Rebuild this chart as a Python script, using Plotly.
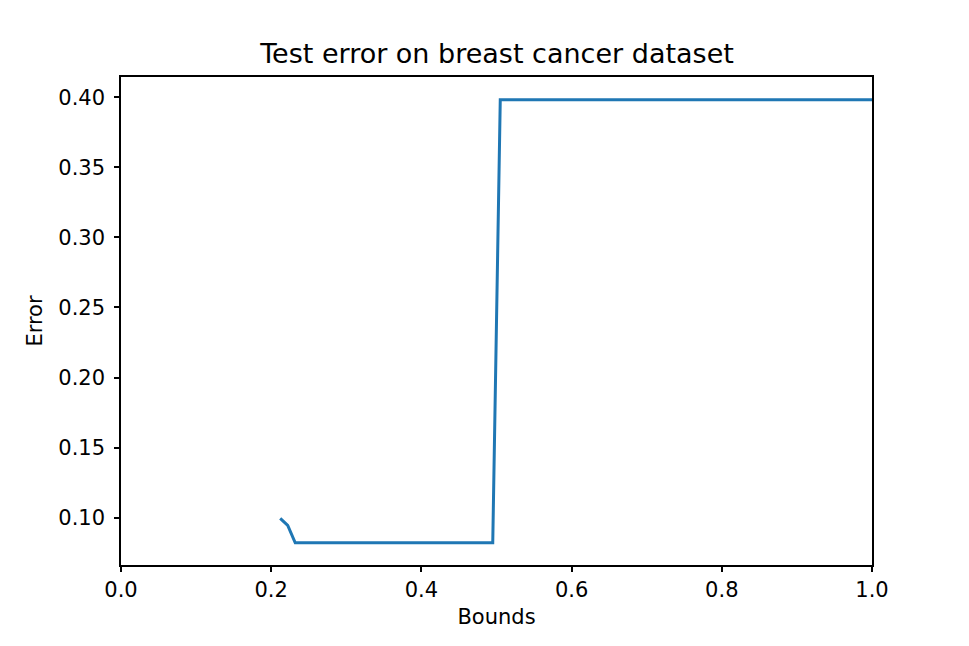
import plotly.graph_objects as go

# Bounds vs test error
bounds = [0.212, 0.222, 0.232, 0.495, 0.505, 1.0]
errors = [0.0995, 0.0945, 0.0821, 0.0821, 0.3982, 0.3982]

x_ticks = [0.0, 0.2, 0.4, 0.6, 0.8, 1.0]
y_ticks = [0.10, 0.15, 0.20, 0.25, 0.30, 0.35, 0.40]

font_family = "DejaVu Sans"

fig = go.Figure()
fig.add_trace(go.Scatter(
    x=bounds, y=errors, mode="lines",
    line=dict(color="#1f77b4", width=3),
    showlegend=False,
))

axis_common = dict(
    showline=True, linecolor="black", linewidth=1.5, mirror=True,
    ticks="outside", ticklen=5, tickwidth=1.5, tickcolor="black",
    showgrid=False, zeroline=False,
    tickfont=dict(family=font_family, size=21, color="black"),
)

# page has an 8px body margin, so the figure is a bit smaller than the window
W, H = 961, 638

fig.update_layout(
    width=W, height=H,
    paper_bgcolor="white", plot_bgcolor="white",
    margin=dict(l=113, r=97, t=69, b=81),
    title=dict(
        text="Test error on breast cancer dataset",
        x=489 / W, xanchor="center",
        y=1 - 46 / H, yanchor="middle",
        font=dict(family=font_family, size=27, color="black"),
    ),
    xaxis=dict(
        range=[0, 1], tickvals=x_ticks, ticktext=[f"{v:.1f}" for v in x_ticks],
        title=dict(text="Bounds", standoff=8,
                   font=dict(family=font_family, size=21, color="black")),
        **axis_common,
    ),
    yaxis=dict(
        range=[0.0663, 0.4144], tickvals=y_ticks, ticktext=[f"{v:.2f}" for v in y_ticks],
        ticklabelstandoff=5,
        title=dict(text="Error", standoff=10,
                   font=dict(family=font_family, size=21, color="black")),
        **axis_common,
    ),
)

fig.write_html("out.html")
